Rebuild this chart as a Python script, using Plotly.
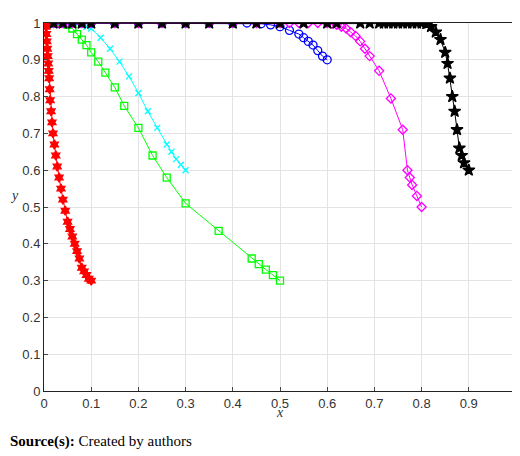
import plotly.graph_objects as go

red_x = [0,0.001,0.002,0.003,0.004,0.005,0.006,0.007,0.008,0.009,0.01,0.011,0.012,0.013,0.015,0.017,0.019,0.022,0.025,0.028,0.032,0.036,0.04,0.045,0.05,0.055,0.06,0.065,0.07,0.075,0.08,0.085,0.09,0.095,0.1]
red_y = [1,1,1,1,0.99,0.97,0.95,0.93,0.91,0.89,0.87,0.85,0.82,0.79,0.76,0.73,0.70,0.67,0.64,0.61,0.58,0.55,0.52,0.49,0.46,0.44,0.42,0.40,0.38,0.36,0.335,0.325,0.315,0.305,0.30]
green_x = [0,0.005,0.01,0.015,0.02,0.025,0.03,0.035,0.04,0.045,0.05,0.06,0.07,0.08,0.09,0.1,0.115,0.13,0.15,0.17,0.2,0.23,0.26,0.3,0.37,0.44,0.455,0.47,0.485,0.5]
green_y = [1,1,1,1,1,1,1,1,1,1,0.995,0.985,0.97,0.955,0.94,0.92,0.895,0.865,0.825,0.775,0.715,0.64,0.58,0.51,0.435,0.36,0.345,0.33,0.315,0.30]
cyan_x = [0,0.01,0.02,0.03,0.04,0.05,0.06,0.07,0.08,0.09,0.1,0.12,0.14,0.16,0.18,0.2,0.22,0.24,0.26,0.27,0.28,0.29,0.3]
cyan_y = [1,1,1,1,1,1,1,1,0.995,0.99,0.985,0.96,0.93,0.895,0.855,0.81,0.76,0.715,0.67,0.65,0.63,0.615,0.60]
blue_x = [0,0.02,0.04,0.06,0.08,0.1,0.15,0.2,0.25,0.3,0.35,0.4,0.43,0.46,0.48,0.5,0.52,0.54,0.55,0.56,0.57,0.58,0.59,0.6]
blue_y = [1,1,1,1,1,1,1,1,1,1,1,1,1,0.998,0.995,0.99,0.98,0.97,0.96,0.95,0.94,0.925,0.91,0.90]
mag_x = [0,0.01,0.02,0.03,0.04,0.05,0.06,0.08,0.1,0.15,0.2,0.25,0.3,0.35,0.4,0.45,0.5,0.52,0.54,0.56,0.58,0.6,0.61,0.62,0.63,0.64,0.65,0.66,0.67,0.68,0.69,0.71,0.735,0.76,0.77,0.775,0.78,0.79,0.8]
mag_y = [1,1,1,1,1,1,1,1,1,1,1,1,1,1,1,1,1,1,1,1,1,1,0.998,0.995,0.99,0.985,0.975,0.965,0.95,0.93,0.91,0.87,0.795,0.71,0.60,0.58,0.56,0.53,0.50]
blk_x = [0,0.02,0.04,0.06,0.08,0.1,0.15,0.2,0.25,0.3,0.35,0.4,0.45,0.5,0.55,0.6,0.62,0.67,0.69,0.71,0.72,0.73,0.74,0.75,0.76,0.77,0.78,0.79,0.8,0.81,0.82,0.83,0.84,0.85,0.855,0.86,0.865,0.87,0.875,0.88,0.885,0.89,0.9]
blk_y = [1,1,1,1,1,1,1,1,1,1,1,1,1,1,1,1,1,1,1,1,1,1,1,1,1,1,1,1,1,0.998,0.99,0.975,0.955,0.92,0.89,0.85,0.8,0.76,0.71,0.66,0.64,0.62,0.60]

fig = go.Figure()
def add(x, y, color, symbol, size=7, lw=1):
    fig.add_trace(go.Scatter(x=x, y=y, mode="lines+markers",
        line=dict(color=color, width=lw),
        marker=dict(symbol=symbol, size=size, color=color,
                    line=dict(color=color, width=1.3)), showlegend=False))

add(green_x, green_y, "#00ff00", "square-open", 7)
add(cyan_x, cyan_y, "#00ffff", "x-thin-open", 6)
add(blue_x, blue_y, "#0000ff", "circle-open", 8)
add(mag_x, mag_y, "#ff00ff", "diamond-open", 7)
add(blk_x, blk_y, "#000000", "star", 9)
add(red_x, red_y, "#ff0000", "hexagram", 7)

ticks = [i/10 for i in range(11)]
labels = ["0"] + [f"{t:g}" for t in ticks[1:-1]] + ["1"]
fig.update_layout(
    width=520, height=456, paper_bgcolor="white", plot_bgcolor="white",
    margin=dict(l=36, r=8, t=10, b=73),
    font=dict(family="Liberation Sans, Arial", size=13, color="#333"),
    xaxis=dict(range=[0,1], tickvals=ticks, ticktext=labels, showgrid=True, gridcolor="#e3e3e3",
               showline=True, linecolor="#222", mirror=True, ticks="inside", ticklen=4, zeroline=False),
    yaxis=dict(range=[0,1], tickvals=ticks, ticktext=labels, showgrid=True, gridcolor="#e3e3e3",
               showline=True, linecolor="#222", mirror=True, ticks="inside", ticklen=4, zeroline=False),
    annotations=[
        dict(text="<i>x</i>", x=0.5, y=-0.085, xref="paper", yref="paper", showarrow=False,
             font=dict(family="Liberation Serif", size=14)),
        dict(text="<i>y</i>", x=-0.012, y=0.53, xref="paper", yref="paper", showarrow=False,
             xshift=-30, font=dict(family="Liberation Serif", size=14)),
        dict(text="<b>Source(s):</b> Created by authors", x=0, y=-0.11, xref="paper", yref="paper",
             xanchor="left", yanchor="top", xshift=-36, showarrow=False,
             font=dict(family="Liberation Serif", size=15, color="black")),
    ])
fig.write_html("out.html")
